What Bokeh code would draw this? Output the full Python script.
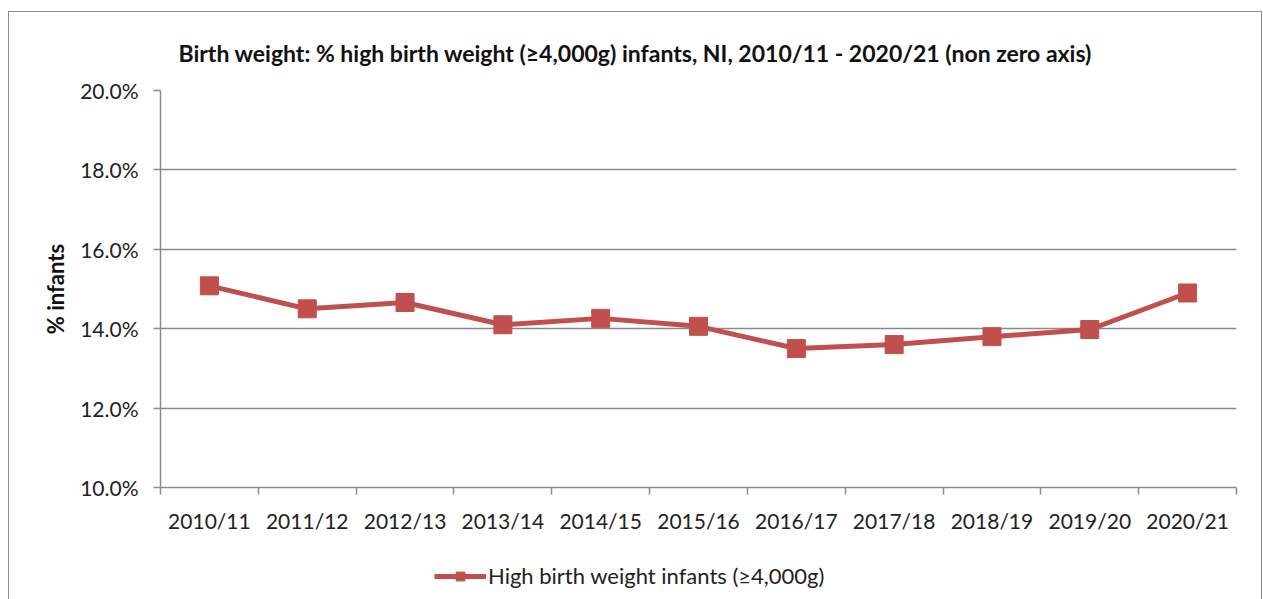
from bokeh.plotting import figure
from bokeh.layouts import column
from bokeh.models import FixedTicker, Legend, LegendItem, Range1d, Title
from bokeh.embed import file_html
from bokeh.resources import INLINE

years = ["2010/11", "2011/12", "2012/13", "2013/14", "2014/15", "2015/16",
         "2016/17", "2017/18", "2018/19", "2019/20", "2020/21"]
high_bw_pct = [15.08, 14.50, 14.66, 14.10, 14.26, 14.06, 13.50, 13.60, 13.80, 13.98, 14.90]
y_ticks = [10, 12, 14, 16, 18, 20]
series_label = "High birth weight infants (\u22654,000g)"

FONT = "Lato"
RED = "#C0504D"
GREY = "#8A8A8A"
BORDER = "1.5px solid #8c8c8c"

xs = [i + 0.5 for i in range(len(years))]

p = figure(frame_width=1076, frame_height=397, output_backend="svg", toolbar_location=None,
           x_range=Range1d(0, len(years)), y_range=Range1d(10, 20),
           min_border_left=151, min_border_right=25, min_border_top=78, min_border_bottom=6)
p.outline_line_color = None

p.title = Title(text="Birth weight: % high birth weight (\u22654,000g) infants, NI, 2010/11 - 2020/21 (non zero axis)",
                align="left", text_font=FONT, text_font_size="23px", text_font_style="bold",
                text_color="#111111", offset=18, standoff=47)

p.line(xs, high_bw_pct, line_color=RED, line_width=5)
p.scatter(xs, high_bw_pct, marker="square", size=18, fill_color=RED, line_color=RED)

# axes
p.xaxis.ticker = FixedTicker(ticks=xs, minor_ticks=list(range(len(years) + 1)))
p.xaxis.major_label_overrides = {x: y for x, y in zip(xs, years)}
p.xaxis.major_tick_out = 0
p.xaxis.major_tick_in = 0
p.xaxis.minor_tick_out = 7
p.xaxis.minor_tick_in = 0
p.xaxis.minor_tick_line_color = GREY
p.xaxis.minor_tick_line_width = 1.5
p.xaxis.axis_line_color = GREY
p.xaxis.axis_line_width = 1.5
p.xaxis.major_label_text_font = FONT
p.xaxis.major_label_text_font_size = "21px"
p.xaxis.major_label_text_color = "#222222"
p.xaxis.major_label_standoff = 13

p.yaxis.ticker = FixedTicker(ticks=y_ticks)
p.yaxis.major_label_overrides = {v: f"{v:.1f}%" for v in y_ticks}
p.yaxis.minor_tick_line_color = None
p.yaxis.major_tick_out = 7
p.yaxis.major_tick_in = 0
p.yaxis.major_tick_line_color = GREY
p.yaxis.major_tick_line_width = 1.5
p.yaxis.axis_line_color = GREY
p.yaxis.axis_line_width = 1.5
p.yaxis.major_label_text_font = FONT
p.yaxis.major_label_text_font_size = "21px"
p.yaxis.major_label_text_color = "#222222"
p.yaxis.major_label_standoff = 15
p.yaxis.axis_label = "% infants"
p.yaxis.axis_label_text_font = FONT
p.yaxis.axis_label_text_font_size = "22px"
p.yaxis.axis_label_text_font_style = "bold"
p.yaxis.axis_label_text_color = "#111111"
p.yaxis.axis_label_standoff = 8

p.xgrid.grid_line_color = None
p.ygrid.ticker = FixedTicker(ticks=y_ticks)
p.ygrid.grid_line_color = GREY
p.ygrid.grid_line_width = 1.5

# legend strip below the chart (same series, drawn out of view so only the key shows)
lf = figure(width=1252, height=66, output_backend="svg", toolbar_location=None,
            x_range=Range1d(-20, -19), y_range=Range1d(-20, -19),
            x_axis_type=None, y_axis_type=None, min_border=0)
lf.outline_line_color = None
lf.xgrid.grid_line_color = None
lf.ygrid.grid_line_color = None
lr_line = lf.line(xs, high_bw_pct, line_color=RED, line_width=5)
lr_pts = lf.scatter(xs, high_bw_pct, marker="square", size=18, fill_color=RED, line_color=RED)
legend = Legend(items=[LegendItem(label=series_label, renderers=[lr_line, lr_pts])],
                location=(274, 12), orientation="horizontal",
                label_text_font=FONT, label_text_font_size="22px", label_text_color="#222222",
                border_line_color=None, background_fill_alpha=0,
                glyph_width=52, glyph_height=22, label_standoff=2, margin=0, padding=2)
lf.add_layout(legend, "center")

layout = column(p, lf, spacing=0,
                styles={"margin-left": "8px", "margin-top": "11px",
                        "border-left": BORDER, "border-top": BORDER, "border-right": BORDER})

open("out.html", "w").write(file_html(layout, INLINE))
